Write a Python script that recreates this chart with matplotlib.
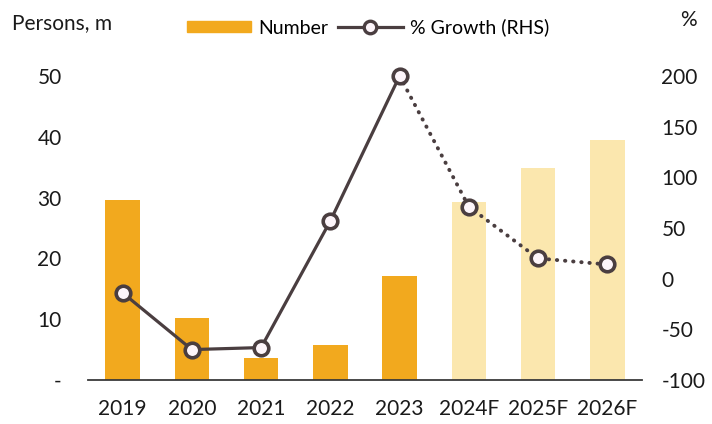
import matplotlib.pyplot as plt
from matplotlib.lines import Line2D
from matplotlib.patches import Patch
import numpy as np

years = ['2019', '2020', '2021', '2022', '2023', '2024F', '2025F', '2026F']
persons = [29.6, 10.2, 3.6, 5.8, 17.1, 29.3, 34.8, 39.5]
growth = [-14, -70, -68, 57, 200, 71, 20, 14]
n_actual = 5  # 2019-2023 are actuals, the rest forecasts

bar_col = '#F2A91E'
fcst_col = '#FBE7AE'
line_col = '#4A3E40'

plt.rcParams['font.family'] = ['Lato', 'DejaVu Sans']
plt.rcParams['axes.unicode_minus'] = False

fig = plt.figure(figsize=(7.12, 4.24), dpi=100)
ax = fig.add_axes([0.1236, 0.1038, 0.778, 0.717])
ax2 = ax.twinx()

x = np.arange(len(years))
colors = [bar_col] * n_actual + [fcst_col] * (len(years) - n_actual)
ax.bar(x, persons, width=0.5, color=colors, zorder=1)

# growth line: solid for actuals, dotted for forecasts
ax2.plot(x[:n_actual], growth[:n_actual], color=line_col, lw=2.3,
         solid_capstyle='round', zorder=3, clip_on=False)
ax2.plot(x[n_actual - 1:], growth[n_actual - 1:], color=line_col, lw=2.8,
         linestyle=(0, (0.1, 2.0)), dash_capstyle='round', zorder=3, clip_on=False)
ax2.plot(x, growth, linestyle='none', marker='o', ms=10.5, mew=2.6,
         mfc='#FDF5FA', mec=line_col, zorder=4, clip_on=False)

ax.set_xlim(-0.5, 7.5)
ax.set_ylim(0, 50)
ax2.set_ylim(-100, 200)
ax.set_xticks(x)
ax.set_xticklabels(years)
ax.set_yticks(range(0, 51, 10))
ax.set_yticklabels(['-'] + [str(v) for v in range(10, 51, 10)])
ax2.set_yticks(range(-100, 201, 50))

for a in (ax, ax2):
    for s in a.spines.values():
        s.set_visible(False)
    a.tick_params(length=0, labelsize=15, colors='#1a1a1a')
ax.spines['bottom'].set_visible(True)
ax.spines['bottom'].set_color('#3a3a3a')
ax.spines['bottom'].set_linewidth(1.3)
ax.tick_params(axis='y', pad=19)
ax.tick_params(axis='x', pad=14)
ax2.tick_params(axis='y', pad=14)

fig.text(0.017, 0.945, 'Persons, m', fontsize=15, va='center', color='#1a1a1a')
fig.text(0.955, 0.952, '%', fontsize=15, va='center', color='#1a1a1a')

handles = [Patch(color=bar_col),
           Line2D([], [], color=line_col, lw=2.3, marker='o', ms=9, mew=2.4,
                  mfc='#FDF5FA', mec=line_col)]
fig.legend(handles, ['Number', '% Growth (RHS)'], loc='center', ncol=2,
           bbox_to_anchor=(0.517, 0.935), frameon=False, fontsize=14,
           handlelength=3.3, handleheight=0.5, handletextpad=0.4, columnspacing=0.5)

fig.savefig('out.png', dpi=100)
